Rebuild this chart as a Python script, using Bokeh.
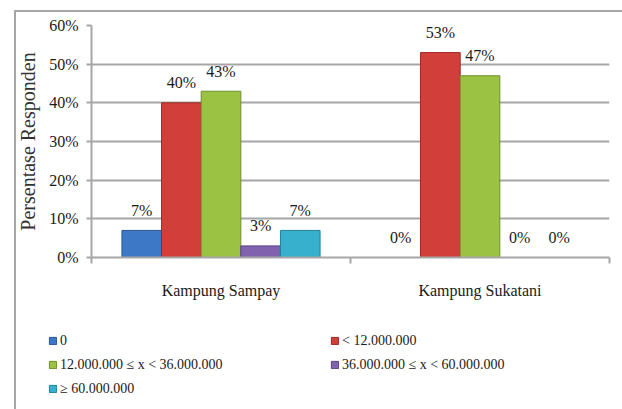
from bokeh.plotting import figure
from bokeh.models import (ColumnDataSource, Legend, LegendItem, FixedTicker, PrintfTickFormatter,
                          Range1d)
from bokeh.transform import dodge
from bokeh.core.properties import value
from bokeh.embed import file_html
from bokeh.resources import INLINE
import numpy as np

# ---- data ----
categories = ["Kampung Sampay", "Kampung Sukatani"]
series_names = ["0", "< 12.000.000", "12.000.000 \u2264 x < 36.000.000",
                "36.000.000 \u2264 x < 60.000.000", "\u2265 60.000.000"]
s_zero = [7, 0]
s_lt12 = [40, 53]
s_12_36 = [43, 47]
s_36_60 = [3, 0]
s_ge60 = [7, 0]
series_values = [s_zero, s_lt12, s_12_36, s_36_60, s_ge60]
y_ticks = [0, 10, 20, 30, 40, 50, 60]

colors = ["#3d78c6", "#d23f3a", "#9cc244", "#8062ae", "#36b0cc"]
edges = ["#2a5590", "#9a2a26", "#6f8f2c", "#5a4480", "#24809a"]

FONT = "Liberation Serif"
TXT = "#1a1a1a"
GRID = "#a6a6a6"

centers = np.arange(len(categories)) + 0.5
src = ColumnDataSource(dict(x=centers, **{f"s{i}": v for i, v in enumerate(series_values)},
                            **{f"l{i}": [f"{a}%" for a in v] for i, v in enumerate(series_values)}))

p = figure(width=608, height=300, output_backend="svg", toolbar_location=None,
           x_range=Range1d(0, len(categories)), y_range=Range1d(0, 60),
           min_border_left=76, min_border_right=13, min_border_top=15, min_border_bottom=53)
p.margin = (10, 0, 0, 14)
p.styles = {"box-shadow": "inset 2px 2px 0 0 #a6a6a6"}
p.outline_line_color = None
p.background_fill_color = "white"
p.border_fill_alpha = 0

bw = 0.153
offsets = [-2 * bw, -bw, 0, bw, 2 * bw]
for i, name in enumerate(series_names):
    p.vbar(x=dodge("x", offsets[i], range=p.x_range), top=f"s{i}", width=bw, bottom=0,
           source=src, fill_color=colors[i], line_color=edges[i], line_width=1)
    p.text(x=dodge("x", offsets[i], range=p.x_range), y=f"s{i}", text=f"l{i}", source=src,
           text_align="center", text_baseline="middle", y_offset=-20,
           text_font=value(FONT), text_font_size="16px", text_color=TXT)

# axes
p.yaxis.ticker = FixedTicker(ticks=y_ticks)
p.yaxis.formatter = PrintfTickFormatter(format="%d%%")
p.yaxis.axis_label = "Persentase Responden"
p.yaxis.axis_label_text_font = FONT
p.yaxis.axis_label_text_font_style = "normal"
p.yaxis.axis_label_text_font_size = "20px"
p.yaxis.axis_label_text_color = "#333333"
p.yaxis.axis_label_standoff = 7
p.yaxis.major_label_text_font = FONT
p.yaxis.major_label_text_font_size = "16px"
p.yaxis.major_label_text_color = TXT
p.yaxis.major_label_standoff = 8
p.yaxis.axis_line_color = GRID
p.yaxis.axis_line_width = 2
p.yaxis.major_tick_line_color = GRID
p.yaxis.major_tick_line_width = 2
p.yaxis.major_tick_out = 5
p.yaxis.major_tick_in = 0
p.yaxis.minor_tick_line_color = None

p.xaxis.ticker = FixedTicker(ticks=list(centers), minor_ticks=list(range(len(categories) + 1)))
p.xaxis.major_label_overrides = {float(c): n for c, n in zip(centers, categories)}
p.xaxis.major_label_text_font = FONT
p.xaxis.major_label_text_font_size = "16px"
p.xaxis.major_label_text_color = TXT
p.xaxis.major_label_standoff = 18
p.xaxis.major_tick_line_color = None
p.xaxis.major_tick_out = 0
p.xaxis.major_tick_in = 0
p.xaxis.minor_tick_line_color = GRID
p.xaxis.minor_tick_line_width = 2
p.xaxis.minor_tick_out = 6
p.xaxis.minor_tick_in = 0
p.xaxis.axis_line_color = GRID
p.xaxis.axis_line_width = 2

p.xgrid.grid_line_color = None
p.ygrid.grid_line_color = GRID
p.ygrid.grid_line_width = 2

# legend panel: same bars drawn off-screen so only their swatches show
pl = figure(width=608, height=99, output_backend="svg", toolbar_location=None,
            x_range=Range1d(100, 101), y_range=Range1d(100, 101),
            x_axis_location=None, y_axis_location=None,
            min_border_left=0, min_border_right=0, min_border_top=0, min_border_bottom=0)
pl.margin = (0, 0, 0, 14)
pl.styles = {"box-shadow": "inset 2px 0 0 0 #a6a6a6"}
pl.outline_line_color = None
pl.grid.grid_line_color = None
pl.border_fill_alpha = 0
pl.background_fill_alpha = 0
swatches = [pl.vbar(x=dodge("x", offsets[i], range=pl.x_range), top=f"s{i}", width=bw, bottom=0,
                    source=src, fill_color=colors[i], line_color=edges[i])
            for i in range(len(series_names))]
legend = Legend(items=[LegendItem(label=n, renderers=[r]) for n, r in zip(series_names, swatches)],
                orientation="horizontal", ncols=2, location=(34, 12), padding=0, margin=0, spacing=7,
                glyph_width=9, glyph_height=9, label_standoff=3, label_width=263, label_height=17,
                label_text_font=FONT, label_text_font_size="14px", label_text_color=TXT,
                border_line_color=None, background_fill_alpha=0)
pl.add_layout(legend, "center")

open("out.html", "w").write(file_html([p, pl], INLINE))
